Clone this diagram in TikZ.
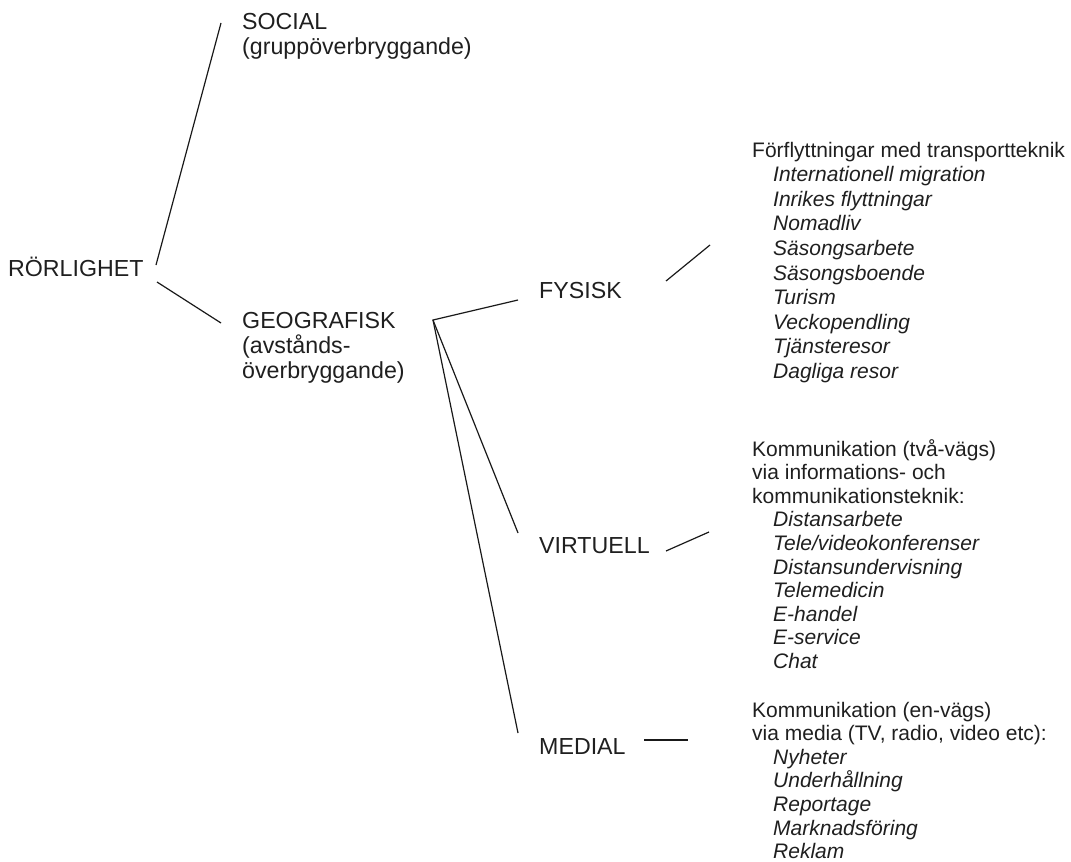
\documentclass[tikz,border=0pt]{standalone}
\usepackage{fontspec}
\setmainfont{Liberation Sans}
\newcommand\ind{\hspace*{21pt}}
\begin{document}
\begin{tikzpicture}[x=1pt,y=-1pt,
  ltext/.style={anchor=base west,inner sep=0pt,align=left,font=\fontsize{23.2}{25}\selectfont,text=black!88},
  rtext/.style={anchor=base west,inner sep=0pt,align=left,font=\fontsize{21}{23.6}\selectfont,text=black!88},
  conn/.style={line width=1.2pt,black!90}]
\useasboundingbox (0,0) rectangle (1071,862);
% labels (base = baseline of the last line)
\node[ltext] (ror) at (8,276) {RÖRLIGHET};
\node[ltext] (soc) at (242,54) {SOCIAL\\(gruppöverbryggande)};
\node[ltext] (geo) at (242,378) {GEOGRAFISK\\(avstånds-\\överbryggande)};
\node[ltext] (fys) at (539,298) {FYSISK};
\node[ltext] (vir) at (539,553) {VIRTUELL};
\node[ltext] (med) at (539,754) {MEDIAL};
\node[rtext,font=\fontsize{21}{24.6}\selectfont] (lfys) at (752,378.4) {Förflyttningar med transportteknik\\
\ind\textit{Internationell migration}\\
\ind\textit{Inrikes flyttningar}\\
\ind\textit{Nomadliv}\\
\ind\textit{Säsongsarbete}\\
\ind\textit{Säsongsboende}\\
\ind\textit{Turism}\\
\ind\textit{Veckopendling}\\
\ind\textit{Tjänsteresor}\\
\ind\textit{Dagliga resor}};
\node[rtext] (lvir) at (752,668.4) {Kommunikation (två-vägs)\\
via informations- och\\
kommunikationsteknik:\\
\ind\textit{Distansarbete}\\
\ind\textit{Tele/videokonferenser}\\
\ind\textit{Distansundervisning}\\
\ind\textit{Telemedicin}\\
\ind\textit{E-handel}\\
\ind\textit{E-service}\\
\ind\textit{Chat}};
\node[rtext] (lmed) at (752,858.6) {Kommunikation (en-vägs)\\
via media (TV, radio, video etc):\\
\ind\textit{Nyheter}\\
\ind\textit{Underhållning}\\
\ind\textit{Reportage}\\
\ind\textit{Marknadsföring}\\
\ind\textit{Reklam}};
% connector end points
\coordinate (rs) at ([shift={(148,-11)}]ror.base west);
\coordinate (rg) at ([shift={(149,6)}]ror.base west);
\coordinate (sr) at ([shift={(-21,-31)}]soc.base west);
\coordinate (gr) at ([shift={(-21,-55)}]geo.base west);
\coordinate (gc) at ([shift={(191,-58)}]geo.base west);
\coordinate (fg) at ([shift={(-21,2)}]fys.base west);
\coordinate (vg) at ([shift={(-21,-20)}]vir.base west);
\coordinate (mg) at ([shift={(-21,-21)}]med.base west);
\coordinate (fr) at ([shift={(127,-17)}]fys.base west);
\coordinate (lf) at ([shift={(-42,-133.4)}]lfys.base west);
\coordinate (vr) at ([shift={(127,-2)}]vir.base west);
\coordinate (lv) at ([shift={(-43,-136.4)}]lvir.base west);
\coordinate (mr) at ([shift={(105,-14)}]med.base west);
\coordinate (lm) at ([shift={(-64,-118.6)}]lmed.base west);
% connectors
\draw[conn] (rs) -- (sr);
\draw[conn] (rg) -- (gr);
\draw[conn] (fg) -- (gc) -- (vg);
\draw[conn] (gc) -- (mg);
\draw[conn] (fr) -- (lf);
\draw[conn] (vr) -- (lv);
\draw[conn] (mr) -- (lm);
\end{tikzpicture}
\end{document}
